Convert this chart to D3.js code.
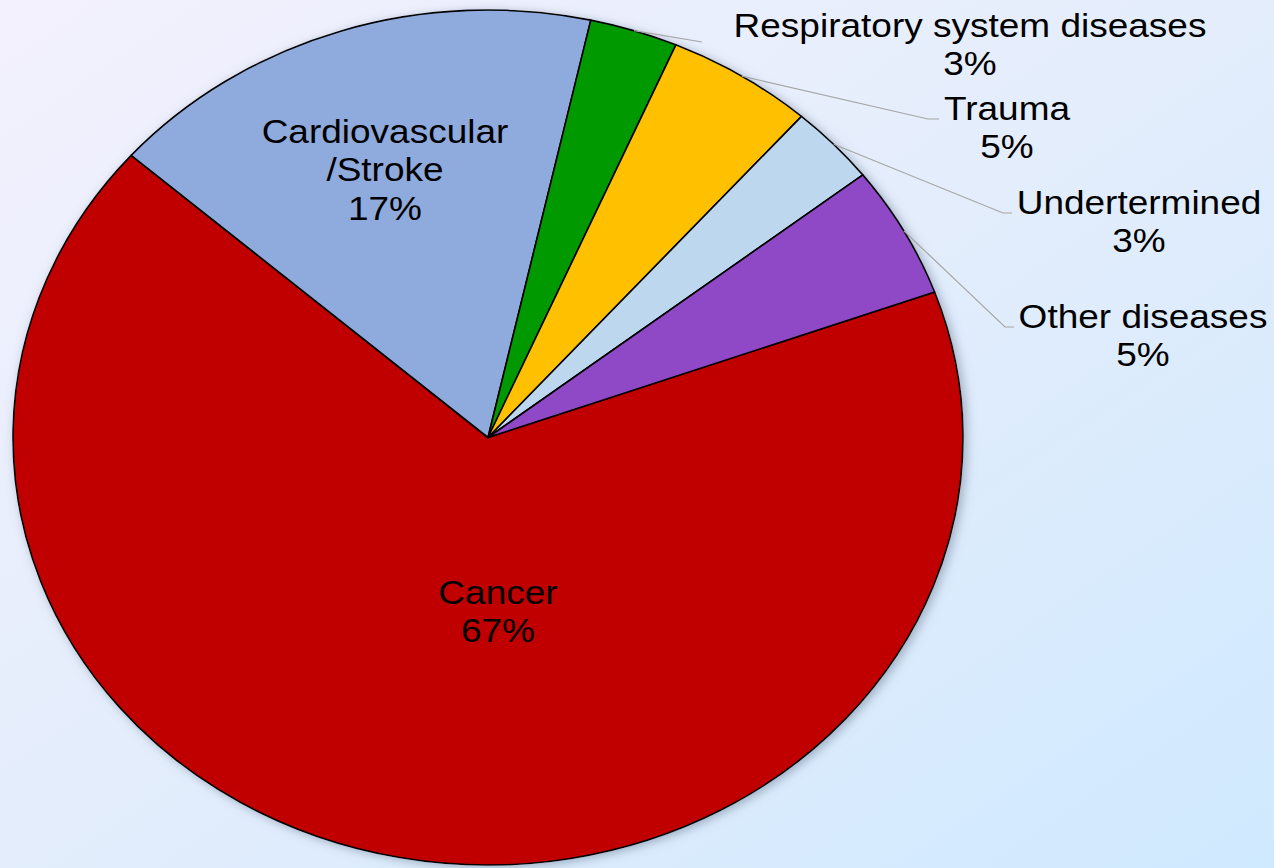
<!DOCTYPE html>
<html><head><meta charset="utf-8">
<script src="https://cdn.jsdelivr.net/npm/d3@7"></script>
<style>html,body{margin:0;padding:0;overflow:hidden;background:#fff}svg{display:block}</style>
</head><body>
<script>
// ---- data ----
const categories = ["Cancer","Cardiovascular/Stroke","Respiratory system diseases","Trauma","Undertermined","Other diseases"];
const values = [67,17,3,5,3,5];
const labelLines = [["Cancer","67%"],["Cardiovascular","/Stroke","17%"],["Respiratory system diseases","3%"],["Trauma","5%"],["Undertermined","3%"],["Other diseases","5%"]];
const colors = ["#C00000","#8FAADC","#009900","#FFC000","#BDD7EE","#8F49C6"];

// ---- layout ----
const W = 1274, H = 868;
const sx = 475/427.5;          // horizontal stretch of the picture
const R = 427.5;
const cx = 488/sx, cy = 437.5;
const startDeg = 70.1;
const fontSize = 33.3, lineH = 38.5;
// label anchor (image coords of first line centre)
const labelPos = [[498,592],[385,131],[970,25],[1007,108],[1139,202],[1143,316]];
// leader path points after the pie edge (image coords)
const leaders = {2:[[702,42]],3:[[928,119],[939,119]],4:[[1003,213],[1012,213]],5:[[1005,327],[1014,327]]};

const svg = d3.select("body").append("svg").attr("width",W).attr("height",H);
const defs = svg.append("defs");
const bg = defs.append("linearGradient").attr("id","bg").attr("x1","0").attr("y1","0").attr("x2","1").attr("y2","1");
bg.append("stop").attr("offset","0").attr("stop-color","#F3F1FD");
bg.append("stop").attr("offset","0.5").attr("stop-color","#E3EDFC");
bg.append("stop").attr("offset","1").attr("stop-color","#CFE9FE");
const f = defs.append("filter").attr("id","sh").attr("x","-10%").attr("y","-10%").attr("width","120%").attr("height","120%");
f.append("feGaussianBlur").attr("in","SourceAlpha").attr("stdDeviation",5).attr("result","b");
f.append("feOffset").attr("in","b").attr("dx",3).attr("dy",2).attr("result","o");
f.append("feFlood").attr("flood-color","#6a7a90").attr("flood-opacity",0.55);
f.append("feComposite").attr("in2","o").attr("operator","in").attr("result","s");
const fm = f.append("feMerge");
fm.append("feMergeNode").attr("in","s");
fm.append("feMergeNode").attr("in","SourceGraphic");

svg.append("rect").attr("width",W).attr("height",H).attr("fill","url(#bg)");

const g = svg.append("g").attr("transform",`scale(${sx},1)`);

const a0 = startDeg*Math.PI/180;
const pie = d3.pie().sort(null).value(d=>d).startAngle(a0).endAngle(a0+2*Math.PI);
const arcs = pie(values);
const arc = d3.arc().innerRadius(0).outerRadius(R);

const pg = g.append("g").attr("transform",`translate(${cx},${cy})`).attr("filter","url(#sh)");
pg.selectAll("path").data(arcs).join("path")
  .attr("d",arc)
  .attr("fill",(d,i)=>colors[i])
  .attr("stroke","#000").attr("stroke-width",1.6)
  .attr("stroke-linejoin","round")
  .attr("vector-effect","non-scaling-stroke");

// leader lines
Object.keys(leaders).forEach(k=>{
  const d = arcs[+k];
  const m = (d.startAngle+d.endAngle)/2;
  const pts = [[cx+R*Math.sin(m), cy-R*Math.cos(m)]].concat(leaders[k].map(p=>[p[0]/sx,p[1]]));
  g.append("path").attr("d",d3.line()(pts)).attr("fill","none")
    .attr("stroke","#A6A6A6").attr("stroke-width",1.2)
    .attr("vector-effect","non-scaling-stroke");
});

// labels
labelLines.forEach((lines,i)=>{
  const t = g.append("text").attr("text-anchor","middle")
    .attr("font-family","'Liberation Sans', Arial, sans-serif")
    .attr("font-size",fontSize).attr("fill","#000");
  lines.forEach((s,j)=>{
    t.append("tspan").attr("x",labelPos[i][0]/sx).attr("y",labelPos[i][1]+j*lineH+fontSize*0.36).text(s);
  });
});
</script>
</body></html>
